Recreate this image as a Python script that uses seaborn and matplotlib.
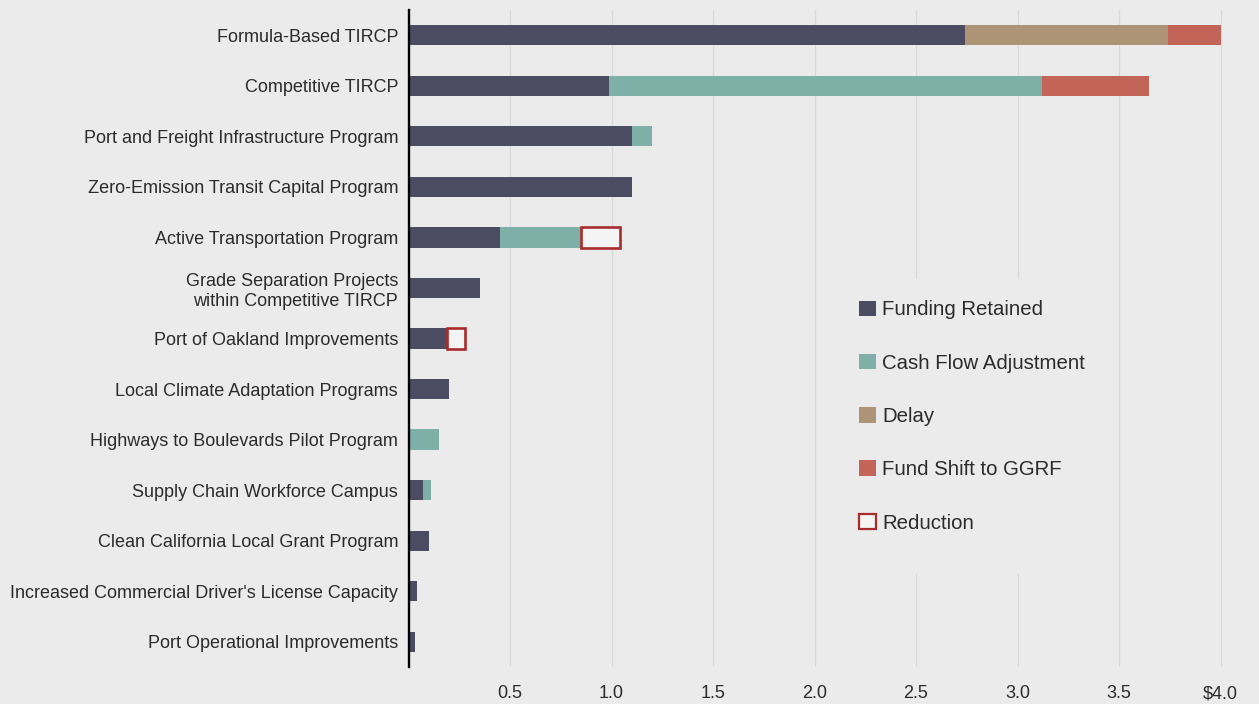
import numpy as np
import pandas as pd
import matplotlib
matplotlib.use("Agg")
import matplotlib.pyplot as plt
from matplotlib.patches import Patch, Rectangle
import seaborn as sns

# ---------------- data ----------------
categories = [
    "Formula-Based TIRCP",
    "Competitive TIRCP",
    "Port and Freight Infrastructure Program",
    "Zero-Emission Transit Capital Program",
    "Active Transportation Program",
    "Grade Separation Projects\nwithin Competitive TIRCP",
    "Port of Oakland Improvements",
    "Local Climate Adaptation Programs",
    "Highways to Boulevards Pilot Program",
    "Supply Chain Workforce Campus",
    "Clean California Local Grant Program",
    "Increased Commercial Driver's License Capacity",
    "Port Operational Improvements",
]
funding_retained = [2.74, 0.99, 1.10, 1.10, 0.45, 0.35, 0.19, 0.20, 0.00, 0.07, 0.10, 0.04, 0.03]
cash_flow_adjustment = [0.00, 2.13, 0.10, 0.00, 0.40, 0.00, 0.00, 0.00, 0.15, 0.04, 0.00, 0.00, 0.00]
delay = [1.00, 0.00, 0.00, 0.00, 0.00, 0.00, 0.00, 0.00, 0.00, 0.00, 0.00, 0.00, 0.00]
fund_shift_ggrf = [0.26, 0.53, 0.00, 0.00, 0.00, 0.00, 0.00, 0.00, 0.00, 0.00, 0.00, 0.00, 0.00]
reduction = [0.00, 0.00, 0.00, 0.00, 0.19, 0.00, 0.09, 0.00, 0.00, 0.00, 0.00, 0.00, 0.00]

series_names = ["Funding Retained", "Cash Flow Adjustment", "Delay", "Fund Shift to GGRF", "Reduction"]
x_ticks = [0.5, 1.0, 1.5, 2.0, 2.5, 3.0, 3.5, 4.0]
x_tick_labels = ["0.5", "1.0", "1.5", "2.0", "2.5", "3.0", "3.5", "$4.0"]

# ---------------- style ----------------
BG = "#ebebeb"
TEXT = "#2b2b2b"
C_RET = "#4b4c62"
C_CASH = "#7fb0a8"
C_DELAY = "#ae9477"
C_SHIFT = "#c26558"
C_RED = "#a82c2b"
C_RED_FILL = "#f4f4f4"

sns.set_theme(style="white", rc={
    "axes.facecolor": BG,
    "figure.facecolor": BG,
    "savefig.facecolor": BG,
})
plt.rcParams["font.family"] = ["Liberation Sans", "DejaVu Sans"]
plt.rcParams["text.color"] = TEXT

fig = plt.figure(figsize=(12.59, 7.04), dpi=100)
ax = fig.add_axes([408.5 / 1259, 1 - 667 / 704, (1240.8 - 408.5) / 1259, (667 - 10) / 704])

seg_values = [funding_retained, cash_flow_adjustment, delay, fund_shift_ggrf]
seg_colors = [C_RET, C_CASH, C_DELAY, C_SHIFT]
left = np.zeros(len(categories))
for vals, col in zip(seg_values, seg_colors):
    vals = np.asarray(vals, dtype=float)
    sns.barplot(x=vals, y=categories, order=categories, orient="h", ax=ax,
                width=0.4, color=col, saturation=1, errorbar=None, left=left.copy(),
                linewidth=0, zorder=3)
    left = left + vals

# Reduction outlined boxes (only where present)
red = np.asarray(reduction, dtype=float)
mask = red > 0
red_cats = [c for c, m in zip(categories, mask) if m]
sns.barplot(x=red[mask], y=red_cats, order=categories, orient="h", ax=ax,
            width=0.4, color=C_RED_FILL, saturation=1, errorbar=None, left=left[mask],
            facecolor=C_RED_FILL, edgecolor=C_RED, linewidth=1.9, zorder=4)

# ---------------- axes ----------------
ax.set_xlim(0, 4.1)
ax.set_ylim(len(categories) - 0.5, -0.5)
ax.set_xlabel("")
ax.set_ylabel("")
ax.set_xticks(x_ticks)
ax.set_xticklabels(x_tick_labels)
ax.tick_params(axis="x", length=0, pad=13, labelsize=13, labelcolor=TEXT)
ax.tick_params(axis="y", length=0, pad=7.5, labelsize=13, labelcolor=TEXT)

ax.grid(axis="x", color="#d9d9d9", linewidth=0.9, zorder=0)
ax.grid(axis="y", visible=False)
ax.set_axisbelow(True)
for s in ["top", "right", "bottom"]:
    ax.spines[s].set_visible(False)
ax.spines["left"].set_visible(True)
ax.spines["left"].set_color("black")
ax.spines["left"].set_linewidth(1.7)
ax.spines["left"].set_zorder(5)

# legend background panel (covers gridlines behind legend)
ax.add_patch(Rectangle((839 / 1259, 1 - 574 / 704), (1116 - 839) / 1259, (574 - 279) / 704,
                       transform=fig.transFigure, facecolor=BG, edgecolor="none",
                       zorder=2, clip_on=False))

# ---------------- legend ----------------
handles = [
    Patch(facecolor=C_RET, edgecolor="none"),
    Patch(facecolor=C_CASH, edgecolor="none"),
    Patch(facecolor=C_DELAY, edgecolor="none"),
    Patch(facecolor=C_SHIFT, edgecolor="none"),
    Patch(facecolor=C_RED_FILL, edgecolor=C_RED, linewidth=1.6),
]
leg = ax.legend(handles, series_names, loc="upper left",
                bbox_to_anchor=(839 / 1259, 1 - 280 / 704),
                bbox_transform=fig.transFigure, borderaxespad=0,
                frameon=False,
                fontsize=14.7, handlelength=0.8, handleheight=0.8,
                handletextpad=0.3, labelspacing=1.68, borderpad=1.0)
leg.set_zorder(6)
for t in leg.get_texts():
    t.set_color(TEXT)

fig.savefig("out.png", dpi=100, facecolor=BG)
